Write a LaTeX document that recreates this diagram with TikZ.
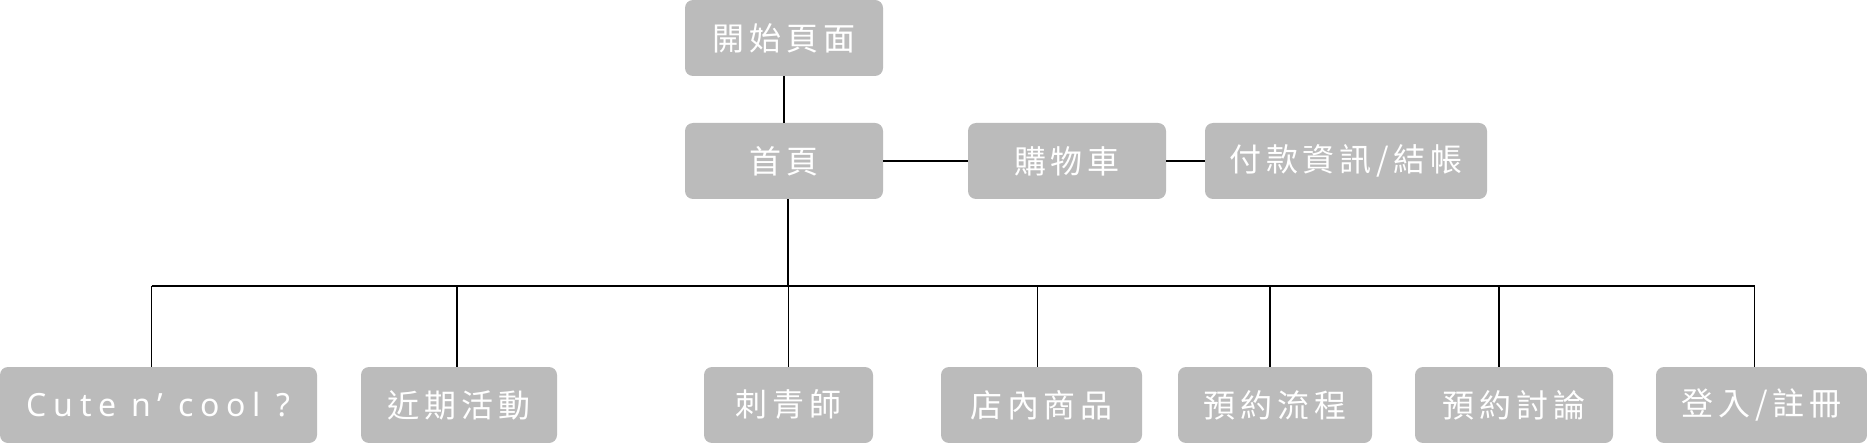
\documentclass[tikz,border=0pt]{standalone}
\usepackage{fontspec}
\setmainfont[LetterSpace=15]{Noto Sans CJK TC}
\newfontfamily\latinfont[LetterSpace=21]{Noto Sans}
\definecolor{boxgray}{HTML}{BBBBBB}
\tikzset{
	page/.style={fill=boxgray, text=white, rounded corners=4pt, minimum height=38pt, inner sep=0pt, font=\fontsize{16}{16}\selectfont},
	link/.style={line width=0.65pt}
}
\begin{document}
\begin{tikzpicture}[x=0.5pt, y=-0.5pt]
	% 1 unit = 1 px of the sketch
	\useasboundingbox (0,0) rectangle (1867,443);
	% upper rows
	\node[page, minimum width=99pt] (start) at (784,38) {開始頁面};
	\node[page, minimum width=99pt] (home) at (784,161) {首頁};
	\node[page, minimum width=99pt] (cart) at (1067,161) {購物車};
	\node[page, minimum width=141pt] (pay) at (1346,161) {付款資訊/結帳};
	% lower row
	\node[page, minimum width=158.5pt] (cute) at (158.5,405) {\latinfont Cute n’ cool ?};
	\node[page, minimum width=98pt] (event) at (459,405) {近期活動};
	\node[page, minimum width=84.5pt] (artist) at (788.5,405) {刺青師};
	\node[page, minimum width=100.5pt] (shop) at (1041.5,405) {店內商品};
	\node[page, minimum width=97pt] (flow) at (1275,405) {預約流程};
	\node[page, minimum width=99pt] (discuss) at (1514,405) {預約討論};
	\node[page, minimum width=105.5pt] (login) at (1761.5,405) {登入/註冊};
	% connectors
	\coordinate (bus) at (788,286);
	\draw[link] (start) -- (home);
	\draw[link] (home) -- (cart);
	\draw[link] (cart) -- (pay);
	\draw[link] ([xshift=2pt]home.south) -- ([xshift=2pt]home.south |- bus);
	\draw[link] ([xshift=-3.5pt]cute.north |- bus) -- ([xshift=-3.5pt]login.north |- bus);
	\foreach \n/\dx in {cute/-3.5, event/-1, artist/0, shop/-2, flow/-2.5, discuss/-7.5, login/-3.5}
		\draw[link] ([xshift=\dx pt]\n.north) -- ([xshift=\dx pt]\n.north |- bus);
\end{tikzpicture}
\end{document}
